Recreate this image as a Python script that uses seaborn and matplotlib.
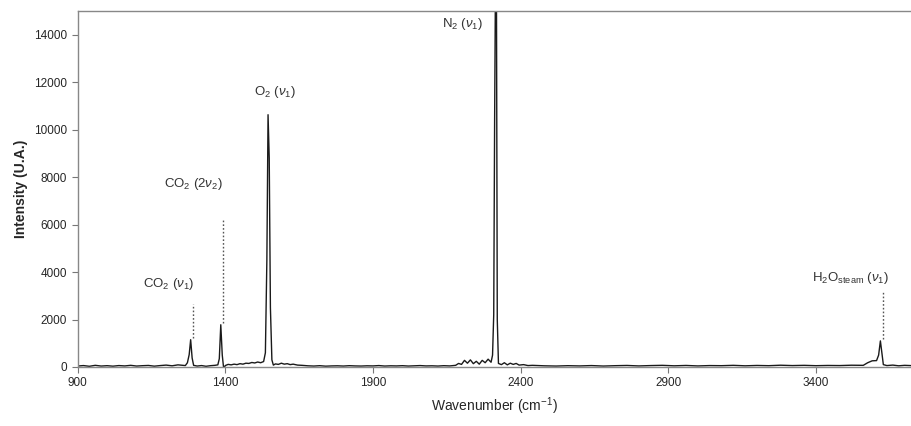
#!/usr/bin/env python3
"""Raman spectrum of air: CO2, O2, N2 and water steam bands"""

import matplotlib
matplotlib.use("Agg")
import matplotlib.pyplot as plt
import seaborn as sns
import pandas as pd

# Spectrum (wavenumber in cm-1, intensity in U.A.)
wavenumber = [
    900, 920, 940, 960, 980, 1000, 1020, 1040, 1060, 1080, 1100, 1120, 1140,
    1160, 1180, 1200, 1220, 1240, 1255, 1265,
    1272, 1278, 1283, 1288, 1293,
    1305, 1320, 1335, 1350, 1365, 1375,
    1380, 1385, 1390, 1395, 1400,
    1410, 1420, 1430, 1440, 1450, 1460, 1470, 1480, 1490, 1500, 1510, 1520, 1530,
    1536, 1541, 1545, 1549, 1553, 1558, 1563,
    1570, 1580, 1590, 1600, 1610, 1620, 1630, 1645, 1660,
    1680, 1700, 1720, 1740, 1760, 1780, 1800, 1820, 1840, 1860, 1880, 1900,
    1920, 1940, 1960, 1980, 2000, 2020, 2040, 2060, 2080, 2100, 2120, 2140,
    2160, 2180,
    2190, 2200, 2210, 2220, 2230, 2240, 2250, 2260, 2270, 2280, 2290, 2300,
    2305, 2309, 2312, 2315, 2318, 2321, 2325,
    2335, 2345, 2355, 2365, 2375, 2385, 2395, 2410, 2425, 2440,
    2480, 2520, 2560, 2600, 2640, 2680, 2720, 2760, 2800, 2840, 2880, 2920,
    2960, 3000, 3040, 3080, 3120, 3160, 3200, 3240, 3280, 3320, 3360, 3400,
    3440, 3480, 3520, 3560,
    3575, 3590, 3605, 3612, 3618, 3623, 3628,
    3640, 3660, 3680, 3700, 3720, 3740,
]
intensity = [
    40, 60, 30, 70, 40, 55, 35, 60, 45, 70, 40, 55, 65,
    35, 60, 80, 50, 90, 70, 60,
    180, 520, 1150, 380, 70,
    40, 60, 30, 55, 70, 90,
    350, 1780, 500, -90, 60,
    110, 90, 120, 100, 140, 120, 160, 150, 190, 170, 210, 180, 230,
    600, 4500, 10630, 8800, 2500, 300, 80,
    130, 110, 160, 120, 140, 100, 120, 80, 70,
    50, 40, 55, 35, 45, 50, 40, 55, 45, 40, 50, 45,
    60, 40, 50, 45, 55, 40, 50, 60, 45, 50, 40, 55,
    45, 70,
    150, 110, 280, 160, 300, 140, 240, 120, 280, 180, 330, 200,
    500, 2200, 10300, 16500, 17000, 2000, 150,
    100, 180, 90, 160, 110, 150, 80, 100, 60, 70,
    50, 40, 55, 45, 60, 40, 55, 65, 45, 60, 70, 50,
    65, 45, 60, 55, 70, 50, 65, 55, 75, 60, 70, 55,
    65, 60, 75, 70,
    180, 260, 270, 500, 1100, 600, 100,
    60, 80, 50, 70, 60, 50,
]

# Band labels, band position and where the label sits
band_labels = [
    r"CO$_2$ ($\nu_1$)",
    r"CO$_2$ (2$\nu_2$)",
    r"O$_2$ ($\nu_1$)",
    r"N$_2$ ($\nu_1$)",
    r"H$_2$O$_{\rm steam}$ ($\nu_1$)",
]
band_pos = [1283, 1385, 1545, 2315, 3618]
band_height = [1150, 1780, 10630, 17000, 1100]
label_x = [1207, 1292, 1569, 2204, 3518]
label_y = [3500, 7700, 11600, 14450, 3750]
leader_top = [2660, 6290, None, None, 3160]

spectrum = pd.DataFrame({"Wavenumber": wavenumber, "Intensity": intensity})

sns.set_style("white")
plt.rcParams["font.family"] = ["Liberation Sans", "DejaVu Sans"]
plt.rcParams["mathtext.fontset"] = "custom"
plt.rcParams["mathtext.rm"] = "Liberation Sans"
plt.rcParams["mathtext.it"] = "Liberation Sans:italic"

fig = plt.figure(figsize=(9.12, 4.26), dpi=100)
ax = fig.add_axes([0.085, 0.1385, 0.915, 0.8357])

sns.lineplot(data=spectrum, x="Wavenumber", y="Intensity", ax=ax,
             color="#1a1a1a", linewidth=1.0, sort=False)

# Annotations with dotted leaders
for lab, px, ph, lx, ly, top in zip(band_labels, band_pos, band_height,
                                    label_x, label_y, leader_top):
    ax.text(lx, ly, lab, ha="center", va="center", fontsize=9.5, color="#333333")
    if top is not None:
        ax.plot([px + 8, px + 8], [ph + 60, top], linestyle=(0, (1.2, 1.5)),
                color="#555555", linewidth=1.0)

ax.set_xlim(900, 3725)
ax.set_ylim(0, 15000)
ax.set_xticks([900, 1400, 1900, 2400, 2900, 3400])
ax.set_yticks(range(0, 15000, 2000))
ax.tick_params(axis="both", labelsize=8.5, length=4, width=0.8,
               color="#777777", direction="out", bottom=True, left=True)

ax.set_xlabel("Wavenumber (cm$^{-1}$)", fontsize=10)
ax.set_ylabel("Intensity (U.A.)", fontsize=10, fontweight="bold")

for side in ["left", "bottom", "top"]:
    ax.spines[side].set_color("#888888")
    ax.spines[side].set_linewidth(1.0)
ax.spines["right"].set_visible(False)

fig.savefig("out.png", dpi=100)
